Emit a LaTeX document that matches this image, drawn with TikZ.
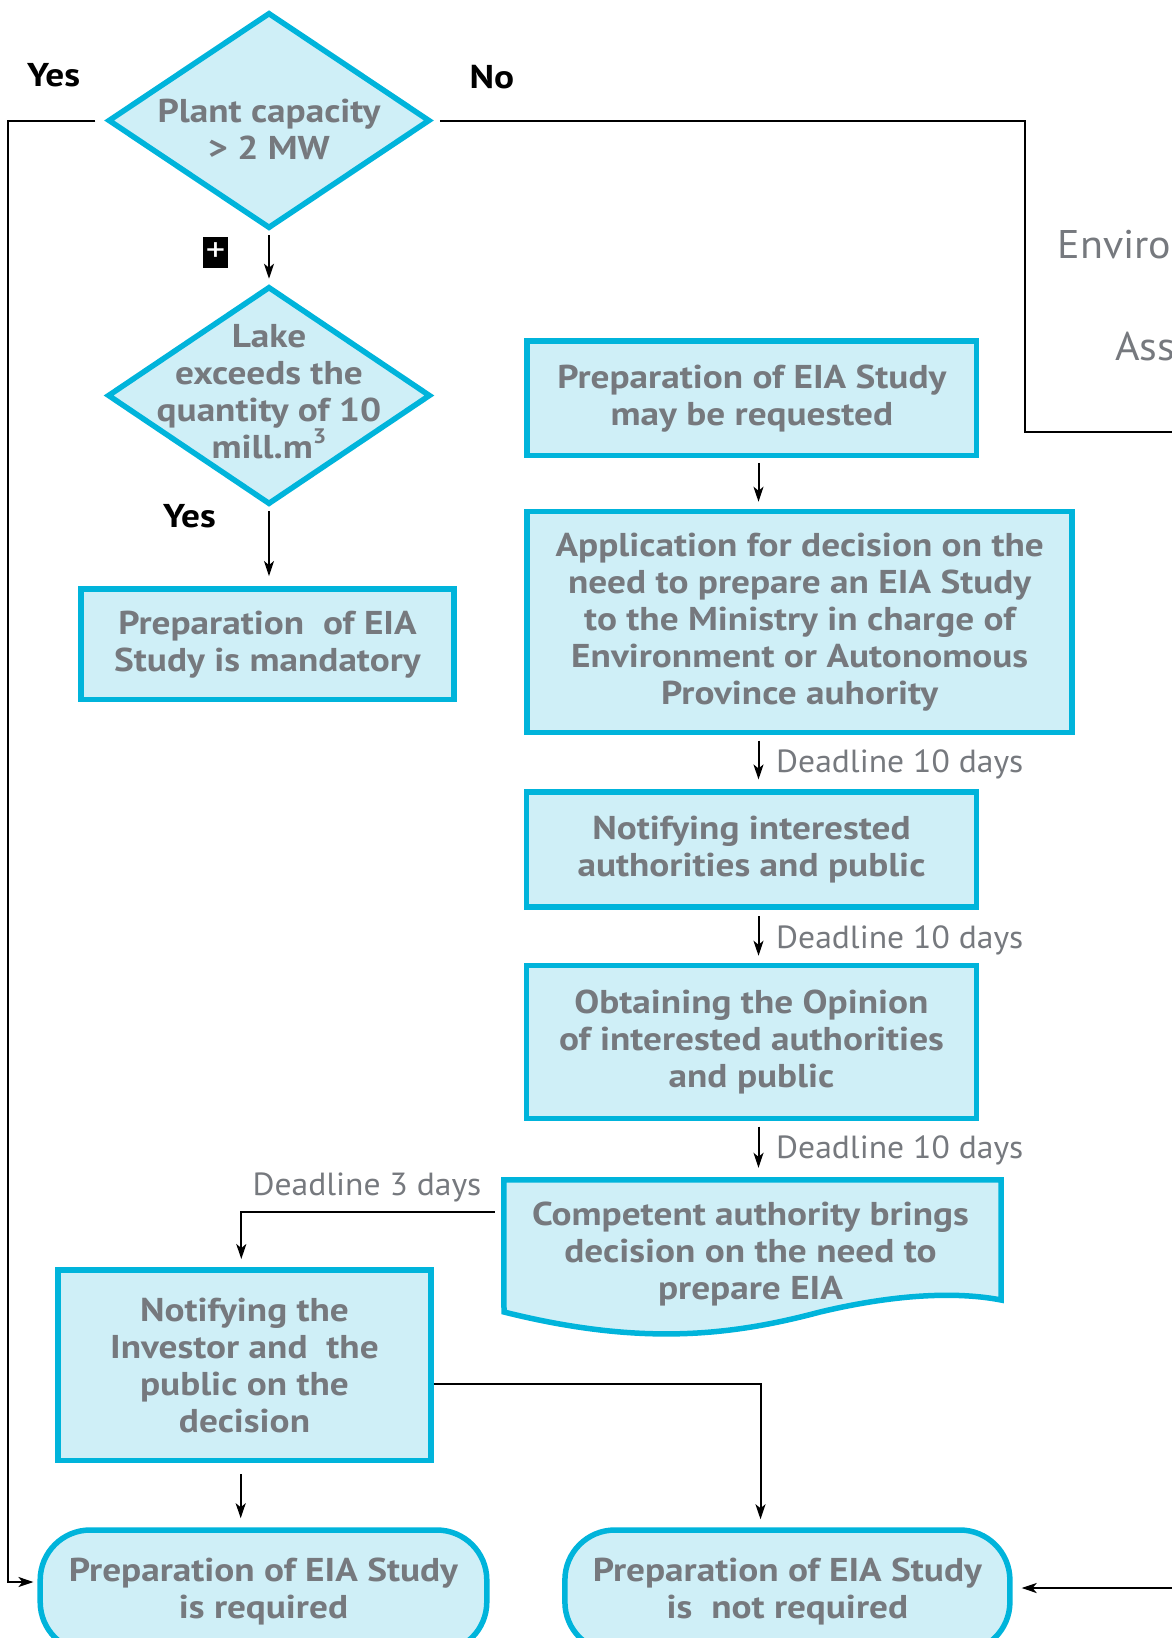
\documentclass[tikz,border=0pt]{standalone}
\usepackage{fontspec}
\setmainfont{PT Sans}[FakeStretch=1.13]
\newfontfamily\dlfont{PT Sans}[FakeStretch=1.05]
\usetikzlibrary{arrows.meta,shapes.geometric,calc}
\definecolor{eiacyan}{RGB}{0,180,219}
\definecolor{eiafill}{RGB}{207,239,247}
\definecolor{eiagray}{RGB}{118,121,126}
\newcommand{\cubed}{\raisebox{0.45em}{\fontsize{21}{21}\selectfont 3}}

\begin{document}
\begin{tikzpicture}[x=1pt,y=-1pt,
  boxtext/.style={font=\fontsize{33}{37}\selectfont\bfseries, text=eiagray, align=center, inner sep=0pt},
  stepbox/.style={draw=eiacyan, fill=eiafill, line width=5.5pt, rectangle, inner sep=0pt, align=center,
                  font=\fontsize{33}{37}\selectfont\bfseries, text=eiagray},
  termbox/.style={stepbox, rounded corners=50pt},
  decision/.style={draw=eiacyan, fill=eiafill, line width=5.5pt, diamond, inner sep=0pt},
  conn/.style={line width=2pt, black},
  arrow/.style={conn, -{Stealth[length=15pt,width=10pt,inset=4pt]}},
  answer/.style={font=\fontsize{33}{37}\selectfont\bfseries, text=black, inner sep=0pt},
  deadline/.style={font=\dlfont\fontsize{32}{36}\selectfont, text=eiagray, inner sep=0pt},
  sidetext/.style={font=\dlfont\fontsize{40}{48}\selectfont, text=eiagray, inner sep=0pt}
]
\clip (0,0) rectangle (1172,1638);
\fill[white] (0,0) rectangle (1172,1638);

% decisions
\node[decision, minimum width=322pt, minimum height=216pt] (d1) at (269,120.5) {};
\node[boxtext] (d1t) at (269,129) {Plant capacity\\> 2 MW};
\node[decision, minimum width=323pt, minimum height=218pt] (d2) at (269,395.5) {};
\node[boxtext] (d2t) at (269,392) {Lake\\exceeds the\\quantity of 10\\mill.m\cubed};

% process boxes
\node[stepbox, minimum width=372.6pt, minimum height=110.8pt] (mand) at (267.5,644.2)
  {Preparation\ \ of EIA\\Study is mandatory};
\node[stepbox, minimum width=449.5pt, minimum height=114.5pt] (req) at (751.9,398.3)
  {Preparation of EIA Study\\may be requested};
\node[stepbox, minimum width=545pt, minimum height=220.8pt] (app) at (799.7,621.9)
  {Application for decision on the\\need to prepare an EIA Study\\to the Ministry in charge of\\Environment or Autonomous\\Province auhority};
\node[stepbox, minimum width=450pt, minimum height=115pt] (notif) at (751.5,849.7)
  {Notifying interested\\authorities and public};
\node[stepbox, minimum width=450pt, minimum height=152.8pt] (obt) at (751.5,1041.9)
  {Obtaining the Opinion\\of interested authorities\\and public};

% document-shaped decision box
\node[minimum width=497pt, minimum height=120pt, inner sep=0pt] (dec) at (752.5,1240) {};
\draw[draw=eiacyan, fill=eiafill, line width=5.5pt, line join=miter]
  (dec.north west) -- (dec.north east) -- (1001,1300)
  .. controls (960,1292) and (900,1293) .. (820,1312)
  .. controls (730,1336) and (640,1346) .. (504,1312) -- cycle;
\node[boxtext] (dect) at (750.5,1254) {Competent authority brings\\decision on the need to\\prepare EIA};

\node[stepbox, minimum width=372.6pt, minimum height=190.8pt] (inv) at (244.5,1365.2)
  {Notifying the\\Investor and\ \ the\\public on the\\decision};

% terminals
\node[termbox, minimum width=446.6pt, minimum height=122pt] (t1) at (263.5,1591)
  {Preparation of EIA Study\\is required};
\node[termbox, minimum width=445pt, minimum height=122pt] (t2) at (787.4,1591)
  {Preparation of EIA Study\\is\ \ not required};

% labels
\node[answer] (yes1) at (53.6,75) {Yes};
\node[answer] (no1) at (491.8,77) {No};
\node[answer] (yes2) at (189.4,515.7) {Yes};
\node[fill=black, text=white, minimum width=25pt, minimum height=31pt, inner sep=0pt,
      font=\fontsize{34}{34}\selectfont] (plus) at (215.5,252.5) {+};
\node[sidetext, anchor=base east] (env) at (1171.5,258) {Enviro};
\node[sidetext, anchor=base west] (ass) at (1115,360) {Ass};

% connectors
\coordinate (yesTop) at (8.4,120.5);
\coordinate (yesBot) at (8.4,1582);
\draw[arrow, shorten <=10pt, shorten >=4pt] (d1.west) -- (yesTop) -- (yesBot) -- (t1.west |- yesBot);

\coordinate (noR) at (1025,120.5);
\coordinate (noB) at (1025,432.3);
\coordinate (noEnd) at (1180,432.3);
\draw[conn, shorten <=7pt] (d1.east) -- (noR) -- (noB) -- (noEnd);

\coordinate (rightIn) at (1180,1588);
\draw[arrow, shorten >=9pt] (rightIn) -- (t2.east |- rightIn);

\draw[arrow, shorten <=4pt, shorten >=5pt] (d1.south) -- (d2.north);
\draw[arrow, shorten <=4pt, shorten >=10pt] (d2.south) -- (mand.north -| d2.south);

\coordinate (colx) at (758.5,0);
\draw[arrow, shorten <=4.5pt, shorten >=7pt] (req.south -| colx) -- (app.north -| colx);
\draw[arrow, shorten <=5.5pt, shorten >=10pt] (app.south -| colx) -- (notif.north -| colx);
\draw[arrow, shorten <=6.5pt, shorten >=7pt] (notif.south -| colx) -- (obt.north -| colx);
\draw[arrow, shorten <=5.5pt, shorten >=12pt] (obt.south -| colx) -- (dec.north -| colx);

\node[deadline, anchor=west] (dl1) at (776,764) {Deadline 10 days};
\node[deadline, anchor=west] (dl2) at (776,940) {Deadline 10 days};
\node[deadline, anchor=west] (dl3) at (776,1150) {Deadline 10 days};
\node[deadline] (dl4) at (367,1187) {Deadline 3 days};

\coordinate (d3bend) at (241.3,1211.7);
\draw[arrow, shorten <=9pt, shorten >=8pt] (dec.west |- d3bend) -- (d3bend) -- (inv.north -| d3bend);

\coordinate (invR) at (760.5,1384);
\draw[arrow, shorten >=8pt] (inv.east |- invR) -- (invR) -- (t2.north -| invR);

\coordinate (invB) at (240.7,0);
\draw[arrow, shorten <=11pt, shorten >=9pt] (inv.south -| invB) -- (t1.north -| invB);
\end{tikzpicture}
\end{document}
